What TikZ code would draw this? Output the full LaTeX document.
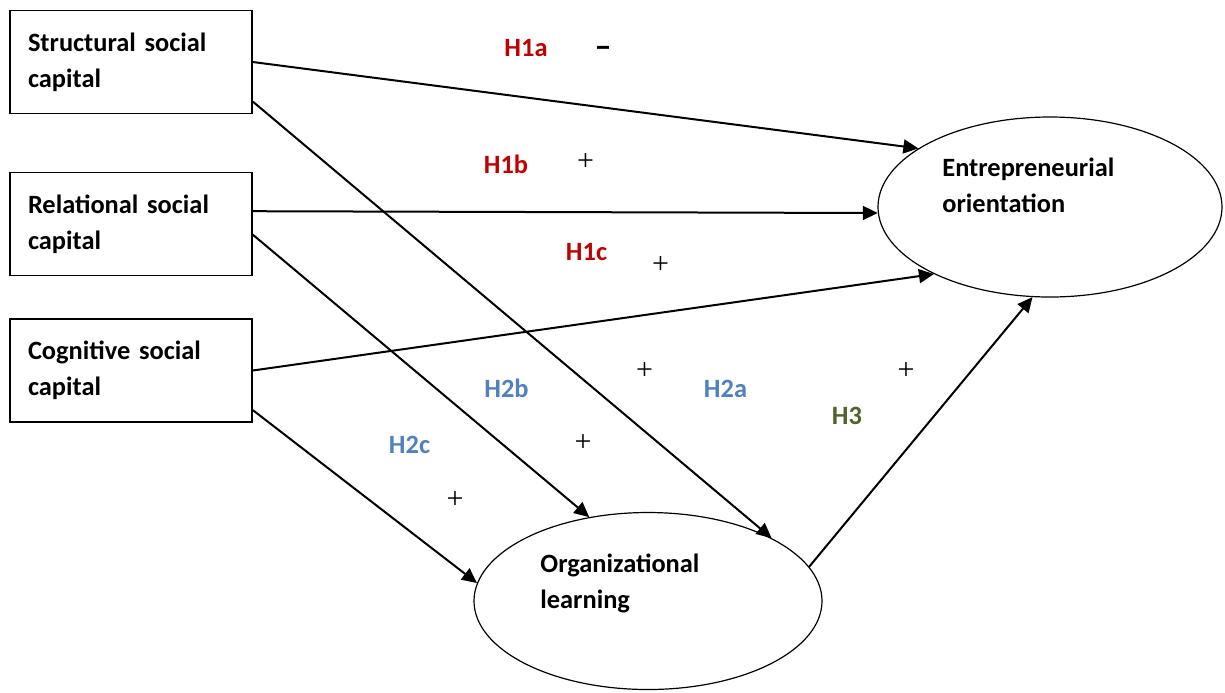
\documentclass[tikz,border=0pt]{standalone}
\usepackage{fontspec}
\setmainfont{Carlito}
\newfontfamily\plusfont{Liberation Serif}
\usetikzlibrary{arrows.meta,positioning,shapes.geometric}
\definecolor{hypred}{RGB}{192,0,0}
\definecolor{hypblue}{RGB}{79,129,189}
\definecolor{hypgreen}{RGB}{79,98,40}

\begin{document}
\begin{tikzpicture}[x=0.5pt,y=-0.5pt,
    every node/.style={font=\fontsize{13.2}{18}\selectfont\bfseries},
    capbox/.style={draw, line width=0.8pt, minimum width=121pt, minimum height=51.5pt,
                   text width=103pt, inner xsep=9pt, align=left},
    latent/.style={draw, ellipse, line width=0.6pt, inner sep=0pt},
    latenttext/.style={anchor=base west, align=left, inner sep=0pt},
    effect/.style={line width=1pt, -{Triangle[length=7.5pt,width=7pt]}},
    hyp/.style={inner sep=0pt},
    sign/.style={inner sep=0pt, font=\plusfont\fontsize{15}{15}\selectfont}]
  \useasboundingbox (0,0) rectangle (1225,692);

  % social capital dimensions
  \node[capbox] (str) at (131,62) {Structural social\\capital};
  \node[capbox] (rel) at (131,224) {Relational social\\capital};
  \node[capbox] (cog) at (131,370.5) {Cognitive social\\capital};

  % outcomes
  \node[latent, minimum width=172pt, minimum height=90pt] (eo) at (1050,207) {};
  \node[latent, minimum width=174pt, minimum height=88.5pt] (ol) at (648,601) {};
  \node[latenttext] (eotext) at (942,212) {Entrepreneurial\\orientation};
  \node[latenttext] (oltext) at (540,608) {Organizational\\learning};

  % paths
  \draw[effect] (str.east) -- (eo.156);
  \draw[effect] (str.342) -- (ol.27);
  \draw[effect] (rel.6) -- (eo.182);
  \draw[effect] (rel.355) -- (ol.125);
  \draw[effect] (cog.east) -- (eo.210);
  \draw[effect] (cog.342) -- (ol.174);
  \draw[effect] (ol.12) -- (eo.259);

  % hypotheses and signs
  \node[hyp, text=hypred] (h1a) at (526,48.5) {H1a};
  \node[hyp, font=\fontsize{17}{17}\selectfont\bfseries] (s1a) at (603,52) {--};
  \node[hyp, text=hypred] (h1b) at (506,164.5) {H1b};
  \node[sign] (s1b) at (585.5,162) {+};
  \node[hyp, text=hypred] (h1c) at (586.5,252) {H1c};
  \node[sign] (s1c) at (660.5,265) {+};
  \node[hyp, text=hypblue] (h2a) at (725.5,388.5) {H2a};
  \node[sign] (s2a) at (644.5,371) {+};
  \node[hyp, text=hypblue] (h2b) at (506.5,388) {H2b};
  \node[sign] (s2b) at (583,443) {+};
  \node[hyp, text=hypblue] (h2c) at (409.5,444.5) {H2c};
  \node[sign] (s2c) at (455,500) {+};
  \node[hyp, text=hypgreen] (h3) at (847,415.5) {H3};
  \node[sign] (s3) at (906,371) {+};
\end{tikzpicture}
\end{document}
